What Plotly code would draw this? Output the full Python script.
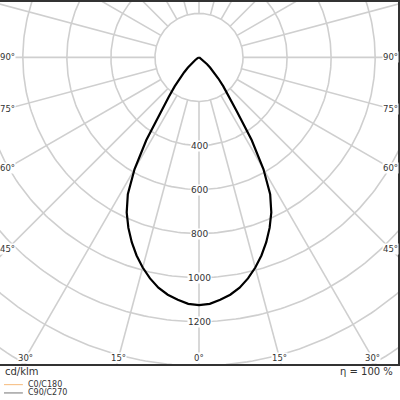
import numpy as np
import plotly.graph_objects as go

# luminous intensity distribution, cd/klm, gamma measured from nadir
gamma = [0, 2.5, 5, 7.5, 10, 12.5, 15, 17.5, 20, 22.5, 25, 27.5, 30, 32.5, 35, 37.5, 40, 42.5,
         45, 47.5, 50, 55, 60, 65, 70, 75, 80, 85, 90]
intensity = [1125, 1120, 1105, 1087, 1062, 1028, 988, 943, 893, 838, 777, 700, 585, 445, 300, 225, 172, 130,
             95, 68, 48, 22, 9, 3, 0, 0, 0, 0, 0]

ring_values = [200, 400, 600, 800, 1000, 1200, 1400, 1600, 1800]
ring_labels = ["400", "600", "800", "1000", "1200"]
spoke_angles = list(range(0, 360, 15))
angle_labels = [0, 15, 30, 45, 60, 75, 90]

unit_label = "cd/klm"
efficiency = "η = 100 %"
legend_names = ["C0/C180", "C90/C270"]
legend_colors = ["#f7c48e", "#8c8c8c"]

# px per cd/klm and plot window
k = 0.2213
X_MAX = 200 / k
Y_TOP = 55.7 / k
Y_BOT = -(364 - 55.7) / k

grid_col = "#cfcfcf"
fig = go.Figure()

# rings
t = np.linspace(0, 2 * np.pi, 361)
for r in ring_values:
    fig.add_trace(go.Scatter(x=r * np.cos(t), y=r * np.sin(t), mode="lines",
                             line=dict(color=grid_col, width=1.6), hoverinfo="skip", showlegend=False))

# spokes (start at the inner ring)
for a in spoke_angles:
    g = np.radians(a)
    fig.add_trace(go.Scatter(x=[200 * np.sin(g), 3000 * np.sin(g)], y=[-200 * np.cos(g), -3000 * np.cos(g)],
                             mode="lines", line=dict(color=grid_col, width=1.6),
                             hoverinfo="skip", showlegend=False))

# curve, mirrored for both halves of the plane
g_full = [-v for v in gamma[::-1]] + gamma[1:]
i_full = intensity[::-1] + intensity[1:]
gr = np.radians(g_full)
fig.add_trace(go.Scatter(x=np.array(i_full) * np.sin(gr), y=-np.array(i_full) * np.cos(gr),
                         mode="lines", line=dict(color="black", width=2.2),
                         hoverinfo="skip", showlegend=False))

lab_font = dict(family="DejaVu Sans", size=9, color="#333333")

# ring value labels on the nadir axis
for s in ring_labels:
    fig.add_annotation(x=0, y=-float(s), text=s, showarrow=False, font=lab_font,
                       bgcolor="white", borderpad=0)

# angle labels where spokes meet the frame
x_in = X_MAX - 32
y_in = Y_BOT + 29
for a in angle_labels:
    g = np.radians(a)
    for sgn in ([1] if a == 0 else [-1, 1]):
        s, c = np.sin(g), np.cos(g)
        t_side = x_in / s if s > 1e-9 else 1e9
        t_bot = -y_in / c if c > 1e-9 else 1e9
        tt = min(t_side, t_bot)
        fig.add_annotation(x=sgn * tt * s, y=-tt * c, text=f"{a}°", showarrow=False,
                           font=dict(family="DejaVu Sans", size=8.5, color="#333333"),
                           bgcolor="white", borderpad=0)

# texts below the frame
fig.add_annotation(xref="paper", yref="paper", x=4 / 400, y=1 - 371 / 400, text=unit_label,
                   showarrow=False, xanchor="left", yanchor="middle", borderpad=0,
                   font=dict(family="DejaVu Sans", size=10, color="#333333"))
fig.add_annotation(xref="paper", yref="paper", x=396 / 400, y=1 - 371 / 400, text=efficiency,
                   showarrow=False, xanchor="right", yanchor="middle", borderpad=0,
                   font=dict(family="DejaVu Sans", size=10, color="#333333"))
for i, (name, col) in enumerate(zip(legend_names, legend_colors)):
    yy = 1 - (384.5 + 8.4 * i) / 400
    fig.add_shape(type="line", xref="paper", yref="paper", x0=4 / 400, x1=23 / 400, y0=yy, y1=yy,
                  line=dict(color=col, width=1.2))
    fig.add_annotation(xref="paper", yref="paper", x=27 / 400, y=yy, text=name, showarrow=False,
                       xanchor="left", yanchor="middle", borderpad=0,
                       font=dict(family="DejaVu Sans", size=8, color="#333333"))

fig.update_xaxes(range=[-X_MAX, X_MAX], domain=[0, 1], showgrid=False, zeroline=False,
                 showticklabels=False, showline=True, mirror=True, linecolor="#333333", linewidth=2)
fig.update_yaxes(range=[Y_BOT, Y_TOP], domain=[36 / 400, 1], showgrid=False, zeroline=False,
                 showticklabels=False, showline=True, mirror=True, linecolor="#333333", linewidth=2)
fig.update_layout(width=400, height=400, margin=dict(l=0, r=0, t=0, b=0),
                  plot_bgcolor="white", paper_bgcolor="white", showlegend=False)

fig.write_html("out.html", config={"displayModeBar": False},
               post_script="document.body.style.margin='0';")
